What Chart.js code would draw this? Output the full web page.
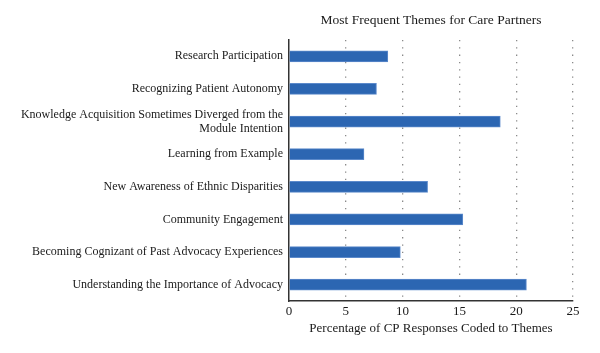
<!DOCTYPE html>
<html>
<head>
<meta charset="utf-8">
<script src="https://cdn.jsdelivr.net/npm/chart.js@4/dist/chart.umd.min.js"></script>
<style>
html,body{margin:0;padding:0;background:#fff;}
#wrap{width:600px;height:353px;position:relative;}
</style>
</head>
<body>
<div id="wrap"><canvas id="c" width="600" height="353"></canvas></div>
<script>
const categories = [
  "Research Participation",
  "Recognizing Patient Autonomy",
  ["Knowledge Acquisition Sometimes Diverged from the", "Module Intention"],
  "Learning from Example",
  "New Awareness of Ethnic Disparities",
  "Community Engagement",
  "Becoming Cognizant of Past Advocacy Experiences",
  "Understanding the Importance of Advocacy"
];
const percentages = [8.7, 7.7, 18.6, 6.6, 12.2, 15.3, 9.8, 20.9];
const xTicks = [0, 5, 10, 15, 20, 25];
const chartTitle = "Most Frequent Themes for Care Partners";
const xAxisTitle = "Percentage of CP Responses Coded to Themes";

const FONT = "'Liberation Serif', 'Times New Roman', serif";
const TEXT = "#1a1a1a";

const titlePlugin = {
  id: 'areaTitle',
  afterDraw(chart) {
    const {ctx, chartArea} = chart;
    ctx.save();
    ctx.font = "13.5px " + FONT;
    ctx.fillStyle = TEXT;
    ctx.textAlign = 'center';
    ctx.textBaseline = 'middle';
    ctx.fillText(chartTitle, (chartArea.left + chartArea.right) / 2, 20);
    ctx.restore();
  }
};

new Chart(document.getElementById('c'), {
  type: 'bar',
  data: {
    labels: categories,
    datasets: [{
      data: percentages,
      backgroundColor: '#2C66B2',
      borderColor: '#5C8ACB',
      borderWidth: 1,
      borderSkipped: 'left',
      barThickness: 11
    }]
  },
  plugins: [titlePlugin],
  options: {
    indexAxis: 'y',
    responsive: false,
    animation: false,
    layout: { padding: { top: 40, right: 27, left: 0, bottom: 18 } },
    plugins: { legend: { display: false }, tooltip: { enabled: false } },
    scales: {
      x: {
        min: 0, max: 25,
        afterBuildTicks(scale) { scale.ticks = xTicks.map(v => ({ value: v })); },
        ticks: { font: { family: FONT, size: 13, lineHeight: 1 }, color: TEXT, padding: 4 },
        grid: {
          drawTicks: false,
          color: ctx => ctx.tick && ctx.tick.value === 0 ? 'rgba(0,0,0,0)' : '#8a8a8a',
          lineWidth: 1.3
        },
        border: { display: true, color: '#333', width: 1.5, dash: [1.3, 6] },
        title: { display: true, text: xAxisTitle, font: { family: FONT, size: 13, lineHeight: 1 }, color: TEXT, padding: { top: 0, bottom: 0 } }
      },
      y: {
        grid: { display: false, drawTicks: false },
        border: { display: true, color: '#333', width: 1.5 },
        ticks: { font: { family: FONT, size: 12 }, color: TEXT, padding: 6, autoSkip: false },
        afterFit(scale) { scale.width = 289; }
      }
    }
  }
});
</script>
</body>
</html>
